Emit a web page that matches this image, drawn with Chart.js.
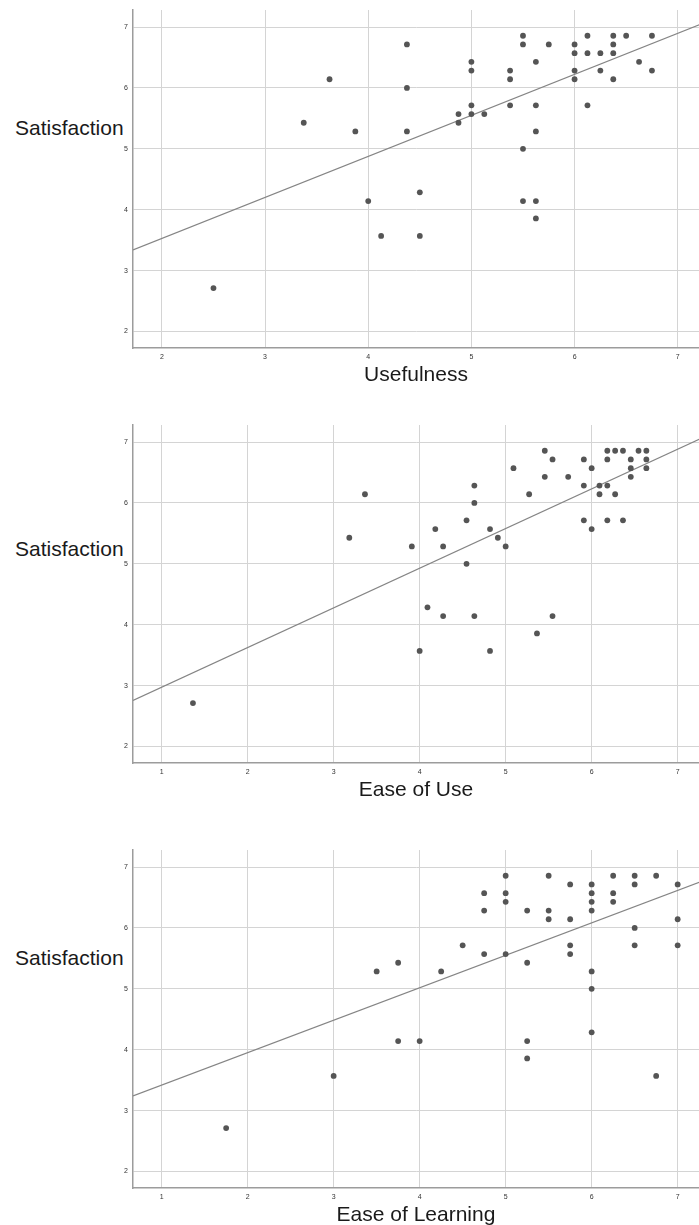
<!DOCTYPE html>
<html>
<head>
<meta charset="utf-8">
<script src="https://cdn.jsdelivr.net/npm/chart.js@4/dist/chart.umd.min.js"></script>
<style>
  html, body { margin: 0; padding: 0; background: #fff; overflow: hidden; }
  .panel { position: absolute; left: 0; width: 703px; height: 392px; }
  .ylab {
    position: absolute; left: 15px;
    font: 21px "Liberation Sans", Arial, sans-serif; line-height: 21px;
    color: #1a1a1a;
  }
</style>
</head>
<body>
<div class="ylab" style="top:117px">Satisfaction</div>
<div class="ylab" style="top:538px">Satisfaction</div>
<div class="ylab" style="top:947px">Satisfaction</div>

<div class="panel" style="top:0px"><canvas id="c1"></canvas></div>
<div class="panel" style="top:415px"><canvas id="c2"></canvas></div>
<div class="panel" style="top:840px"><canvas id="c3"></canvas></div>

<script>
// Satisfaction vs Usefulness
const usefulness = [2.5, 3.375, 3.625, 3.875, 4.0, 4.125, 4.375, 4.375, 4.375, 4.5, 4.5, 4.875, 4.875,
  5.0, 5.0, 5.0, 5.0, 5.125, 5.375, 5.375, 5.375, 5.5, 5.5, 5.5, 5.5, 5.625, 5.625, 5.625, 5.625, 5.625,
  5.75, 6.0, 6.0, 6.0, 6.0, 6.125, 6.125, 6.125, 6.25, 6.25, 6.375, 6.375, 6.375, 6.375, 6.5, 6.625, 6.75, 6.75];
const satUsefulness = [2.714, 5.429, 6.143, 5.286, 4.143, 3.571, 6.714, 6.0, 5.286, 4.286, 3.571, 5.571, 5.429,
  6.429, 6.286, 5.714, 5.571, 5.571, 6.286, 6.143, 5.714, 6.857, 6.714, 5.0, 4.143, 6.429, 5.714, 5.286, 4.143, 3.857,
  6.714, 6.714, 6.571, 6.286, 6.143, 6.857, 6.571, 5.714, 6.571, 6.286, 6.857, 6.714, 6.571, 6.143, 6.857, 6.429, 6.857, 6.286];

// Satisfaction vs Ease of Use
const easeOfUse = [1.364, 3.182, 3.364, 3.909, 4.0, 4.091, 4.182, 4.273, 4.273, 4.545, 4.545, 4.636, 4.636, 4.636,
  4.818, 4.818, 4.909, 5.0, 5.091, 5.273, 5.364, 5.455, 5.455, 5.545, 5.545, 5.727, 5.909, 5.909, 5.909,
  6.0, 6.0, 6.091, 6.091, 6.182, 6.182, 6.182, 6.182, 6.273, 6.273, 6.364, 6.364, 6.455, 6.455, 6.455,
  6.545, 6.636, 6.636, 6.636];
const satEaseOfUse = [2.714, 5.429, 6.143, 5.286, 3.571, 4.286, 5.571, 5.286, 4.143, 5.714, 5.0, 6.286, 6.0, 4.143,
  5.571, 3.571, 5.429, 5.286, 6.571, 6.143, 3.857, 6.857, 6.429, 6.714, 4.143, 6.429, 6.714, 6.286, 5.714,
  6.571, 5.571, 6.286, 6.143, 6.857, 6.714, 6.286, 5.714, 6.857, 6.143, 6.857, 5.714, 6.714, 6.571, 6.429,
  6.857, 6.857, 6.714, 6.571];

// Satisfaction vs Ease of Learning
const easeOfLearning = [1.75, 3.0, 3.5, 3.75, 3.75, 4.0, 4.25, 4.5, 4.75, 4.75, 4.75, 5.0, 5.0, 5.0, 5.0,
  5.25, 5.25, 5.25, 5.25, 5.5, 5.5, 5.5, 5.75, 5.75, 5.75, 5.75, 6.0, 6.0, 6.0, 6.0, 6.0, 6.0, 6.0,
  6.25, 6.25, 6.25, 6.5, 6.5, 6.5, 6.5, 6.75, 6.75, 7.0, 7.0, 7.0];
const satEaseOfLearning = [2.714, 3.571, 5.286, 5.429, 4.143, 4.143, 5.286, 5.714, 6.571, 6.286, 5.571, 6.857, 6.571, 6.429, 5.571,
  6.286, 5.429, 4.143, 3.857, 6.857, 6.286, 6.143, 6.714, 6.143, 5.714, 5.571, 6.714, 6.571, 6.429, 6.286, 5.286, 5.0, 4.286,
  6.857, 6.571, 6.429, 6.857, 6.714, 6.0, 5.714, 6.857, 3.571, 6.714, 6.143, 5.714];

// fit lines, end points
const fitUsefulnessX = [1.72, 7.21];
const fitUsefulnessY = [3.34, 7.04];
const fitEaseOfUseX = [0.667, 7.25];
const fitEaseOfUseY = [2.758, 7.044];
const fitEaseOfLearningX = [0.667, 7.25];
const fitEaseOfLearningY = [3.243, 6.748];

// tick labels
const yTicks = [2, 3, 4, 5, 6, 7];
const xTicksUsefulness = [2, 3, 4, 5, 6, 7];
const xTicksEase = [1, 2, 3, 4, 5, 6, 7];

const zip = (xs, ys) => xs.map((x, i) => ({ x: x, y: ys[i] }));
const tickFont = { family: '"Liberation Sans", Arial, sans-serif', size: 7 };

function makePanel(id, xs, ys, fitX, fitY, xMin, xMax, xTicks, title) {
  return new Chart(document.getElementById(id), {
    type: 'scatter',
    data: {
      datasets: [
        {
          data: zip(xs, ys),
          backgroundColor: '#555555',
          borderWidth: 0,
          pointRadius: 2.9,
          order: 1
        },
        {
          data: zip(fitX, fitY),
          showLine: true,
          borderColor: '#858585',
          borderWidth: 1.2,
          pointRadius: 0,
          order: 2
        }
      ]
    },
    options: {
      animation: false,
      responsive: true,
      maintainAspectRatio: false,
      layout: { padding: { top: 10, left: 0, right: 0, bottom: 0 } },
      plugins: { legend: { display: false }, tooltip: { enabled: false } },
      scales: {
        x: {
          type: 'linear',
          min: xMin,
          max: xMax,
          afterBuildTicks: (s) => { s.ticks = xTicks.map((v) => ({ value: v })); },
          afterFit: (s) => { s.height = 44; },
          ticks: { font: tickFont, color: '#333', padding: 5, maxRotation: 0 },
          grid: { color: '#d4d4d4', lineWidth: 1, drawTicks: false },
          border: { color: '#9c9c9c', width: 1.5 },
          title: {
            display: true,
            text: title,
            color: '#1a1a1a',
            font: { family: '"Liberation Sans", Arial, sans-serif', size: 21 },
            padding: { top: 0, bottom: 4 }
          }
        },
        y: {
          min: 1.73,
          max: 7.28,
          afterBuildTicks: (s) => { s.ticks = yTicks.map((v) => ({ value: v })); },
          afterFit: (s) => { s.width = 133; },
          ticks: { font: tickFont, color: '#333', padding: 5 },
          grid: { color: '#d4d4d4', lineWidth: 1, drawTicks: false },
          border: { color: '#9c9c9c', width: 1.5 }
        }
      }
    }
  });
}

makePanel('c1', usefulness, satUsefulness, fitUsefulnessX, fitUsefulnessY, 1.72, 7.206, xTicksUsefulness, 'Usefulness');
makePanel('c2', easeOfUse, satEaseOfUse, fitEaseOfUseX, fitEaseOfUseY, 0.667, 7.248, xTicksEase, 'Ease of Use');
makePanel('c3', easeOfLearning, satEaseOfLearning, fitEaseOfLearningX, fitEaseOfLearningY, 0.667, 7.248, xTicksEase, 'Ease of Learning');
</script>
</body>
</html>
